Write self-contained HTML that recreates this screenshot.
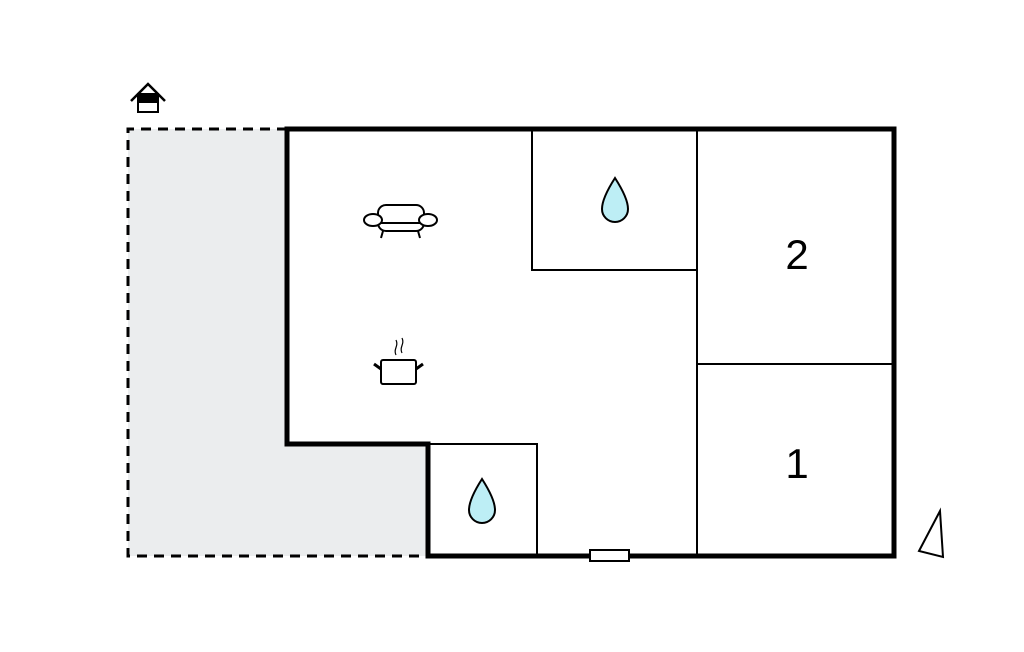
<!DOCTYPE html>
<html><head><style>body{margin:0;background:#fff}</style></head><body>
<svg width="1024" height="652" viewBox="0 0 1024 652" xmlns="http://www.w3.org/2000/svg" style="display:block">
<rect x="128" y="129" width="300" height="427" fill="#ebedee"/>
<rect x="287" y="129" width="607" height="315" fill="#fff"/>
<rect x="428" y="129" width="466" height="427" fill="#fff"/>
<path d="M287 129 H128 V556 H428" fill="none" stroke="#000" stroke-width="3" stroke-dasharray="10,7"/>
<path d="M287 129 H894 V556 H428 V444 H287 Z" fill="none" stroke="#000" stroke-width="5"/>
<path d="M532 129 V270 H697 M697 129 V556 M697 364 H894 M428 444 H537 V556" fill="none" stroke="#000" stroke-width="2"/>
<rect x="590" y="550" width="39" height="11" fill="#fff" stroke="#000" stroke-width="2"/>
<path d="M615 178 C606 192 602 202 602 209 A13 13 0 0 0 628 209 C628 202 624 192 615 178 Z" fill="#bdeef5" stroke="#000" stroke-width="2"/>
<path d="M482 479 C473 493 469 503 469 510 A13 13 0 0 0 495 510 C495 503 491 493 482 479 Z" fill="#bdeef5" stroke="#000" stroke-width="2"/>
<text x="797" y="269" font-family="Liberation Sans, sans-serif" font-size="42" text-anchor="middle">2</text>
<text x="797" y="478" font-family="Liberation Sans, sans-serif" font-size="42" text-anchor="middle">1</text>
<g fill="#fff" stroke="#000" stroke-width="2">
<rect x="378" y="205" width="46" height="26" rx="8"/>
<line x1="378" y1="223" x2="424" y2="223"/>
<ellipse cx="373" cy="220" rx="9" ry="6"/>
<ellipse cx="428" cy="220" rx="9" ry="6"/>
<path d="M383 231 l-2 7 M418 231 l2 7"/>
<rect x="381" y="360" width="35" height="24" rx="2"/>
<path d="M381 369 l-7 -5 M416 369 l7 -5" stroke-width="3"/>
<path d="M396 355 c-3-6 3-9 0-15 M402 353 c-3-6 3-9 0-15" fill="none" stroke-width="1.2"/>
<path d="M131 101 L148 84 L165 101" fill="none" stroke-width="2.5"/>
<rect x="138" y="94" width="20" height="18"/>
<rect x="138" y="94" width="20" height="8" fill="#000"/>
<path d="M940 511 L919 551 L943 557 Z" stroke-width="2"/>
</g>
</svg>
</body></html>
